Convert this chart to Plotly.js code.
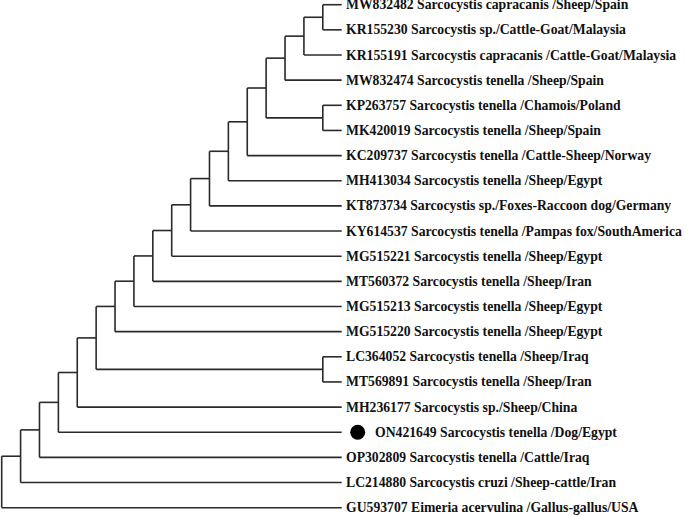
<!DOCTYPE html>
<html><head><meta charset="utf-8">
<script src="https://cdn.plot.ly/plotly-3.0.1.min.js"></script>
<style>html,body{margin:0;padding:0;background:#fff;}#chart{width:685px;height:516px;}</style>
</head><body><div id="chart"></div>
<script>
// Leaf labels, top to bottom
const accessions = ["MW832482","KR155230","KR155191","MW832474","KP263757","MK420019","KC209737","MH413034","KT873734","KY614537","MG515221","MT560372","MG515213","MG515220","LC364052","MT569891","MH236177","ON421649","OP302809","LC214880","GU593707"];
const descriptions = ["Sarcocystis capracanis /Sheep/Spain","Sarcocystis sp./Cattle-Goat/Malaysia","Sarcocystis capracanis /Cattle-Goat/Malaysia","Sarcocystis tenella /Sheep/Spain","Sarcocystis tenella /Chamois/Poland","Sarcocystis tenella /Sheep/Spain","Sarcocystis tenella /Cattle-Sheep/Norway","Sarcocystis tenella /Sheep/Egypt","Sarcocystis sp./Foxes-Raccoon dog/Germany","Sarcocystis tenella /Pampas fox/SouthAmerica","Sarcocystis tenella /Sheep/Egypt","Sarcocystis tenella /Sheep/Iran","Sarcocystis tenella /Sheep/Egypt","Sarcocystis tenella /Sheep/Egypt","Sarcocystis tenella /Sheep/Iraq","Sarcocystis tenella /Sheep/Iran","Sarcocystis sp./Sheep/China","Sarcocystis tenella /Dog/Egypt","Sarcocystis tenella /Cattle/Iraq","Sarcocystis cruzi /Sheep-cattle/Iran","Eimeria acervulina /Gallus-gallus/USA"];
// Tree topology (Newick)
const newick = "((((((((((((((((((MW832482,KR155230),KR155191),MW832474),(KP263757,MK420019)),KC209737),MH413034),KT873734),KY614537),MG515221),MT560372),MG515213),MG515220),(LC364052,MT569891)),MH236177),ON421649),OP302809),LC214880),GU593707);";
const highlighted = ["ON421649"];

function parse(s){
  let i=0;
  function node(){
    if(s[i]==='('){
      i++; const ch=[node()];
      while(s[i]===','){i++; ch.push(node());}
      i++;
      return {children:ch};
    }
    let name=''; while(i<s.length && !',();'.includes(s[i])) name+=s[i++];
    return {name:name.trim()};
  }
  return node();
}
const root = parse(newick);
function height(n){ if(!n.children) return (n.h=0); n.h = 1+Math.max(...n.children.map(height)); return n.h; }
const H = height(root);
function layout(n){
  n.x = H - n.h;
  if(!n.children){ n.y = accessions.indexOf(n.name); return; }
  n.children.forEach(layout);
  n.y = (n.children[0].y + n.children[n.children.length-1].y)/2;
}
layout(root);
const lx=[], ly=[];
function edges(n){
  if(!n.children) return;
  const c=n.children;
  lx.push(n.x,n.x,null); ly.push(c[0].y,c[c.length-1].y,null);
  c.forEach(k=>{ lx.push(n.x,k.x,null); ly.push(k.y,k.y,null); edges(k); });
}
edges(root);

const W=685, Hpx=516;
const x0px=1.7, leafPx=341.7, step=(leafPx-x0px)/H;
const y0px=4.7, ystep=25.15;
const xr=[-x0px/step, (W-x0px)/step];
const yr=[(Hpx-y0px)/ystep, -y0px/ystep];

const font={family:"Liberation Serif, Times New Roman, serif", size:13.7, color:"#111"};
const annotations = accessions.map((a,i)=>({
  x:H, y:i, xref:'x', yref:'y', text:'<b>'+a+' '+descriptions[i]+'</b>',
  showarrow:false, xanchor:'left', yanchor:'middle',
  xshift: highlighted.includes(a)?31:2, font:font
}));
const hi = highlighted.map(a=>accessions.indexOf(a));

const traces=[
  {x:lx,y:ly,mode:'lines',line:{color:'#2a2a2a',width:1.6},hoverinfo:'skip',showlegend:false},
  {x:hi.map(()=>H+16/step),y:hi,mode:'markers',marker:{color:'#000',size:15},hoverinfo:'skip',showlegend:false}
];
Plotly.newPlot('chart',traces,{
  width:W,height:Hpx,margin:{l:0,r:0,t:0,b:0},
  paper_bgcolor:'#fff',plot_bgcolor:'#fff',
  xaxis:{range:xr,visible:false,fixedrange:true},
  yaxis:{range:yr,visible:false,fixedrange:true},
  annotations:annotations,showlegend:false
},{staticPlot:true});
</script></body></html>
